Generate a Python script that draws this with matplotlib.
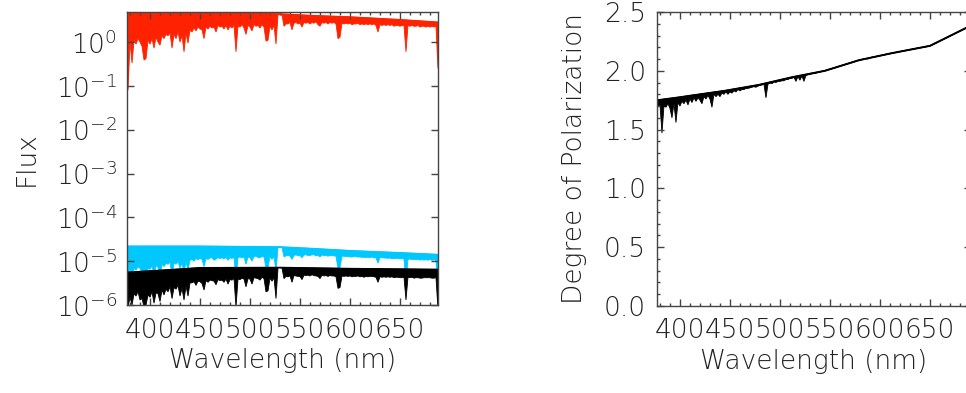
import numpy as np
import matplotlib
matplotlib.use("Agg")
import matplotlib.pyplot as plt
from matplotlib.ticker import MultipleLocator, FixedLocator, NullLocator, LogFormatterMathtext, FormatStrFormatter

# Wavelength grid of the sampled spectra (nm)
wavelength = np.arange(378, 690, 2)

# Total flux (red): continuum nodes and lower edge of the absorption lines
total_cont_wl = [378, 450, 530, 560, 600, 650, 688]
total_cont = [4.6, 4.6, 4.4, 4.05, 3.75, 3.25, 2.85]
total_low = [
    0.08, 1.0, 0.33, 1.1, 0.9, 1.2, 1.0, 0.8, 0.39, 0.42,
    1.1, 0.9, 1.2, 0.73, 1.3, 1.0, 0.85, 1.4, 1.2, 1.5,
    1.4, 1.6, 0.73, 1.5, 1.2, 1.7, 1.0, 1.4, 0.6, 1.6,
    0.95, 1.9, 1.7, 2.1, 1.8, 2.2, 2.0, 1.9, 1.2, 2.2,
    2.0, 2.3, 2.1, 2.2, 1.7, 2.4, 2.2, 2.3, 2.0, 2.4,
    1.9, 2.3, 2.1, 2.4, 0.6, 2.3, 2.2, 2.5, 2.1, 1.5,
    2.4, 2.2, 1.8, 2.5, 2.3, 2.4, 2.1, 2.5, 2.2, 1.05,
    1.1, 2.3, 1.9, 2.4, 0.9, 4.2, 4.2, 4.1, 2.3, 2.6,
    2.6, 2.8, 1.9, 2.7, 2.8, 2.6, 2.7, 2.2, 2.8, 2.7,
    2.8, 2.6, 2.8, 2.7, 2.9, 2.5, 2.3, 2.8, 2.7, 2.8,
    2.6, 2.8, 2.7, 2.8, 2.6, 1.2, 1.3, 2.7, 2.6, 2.7,
    2.6, 2.7, 2.5, 2.6, 2.6, 2.7, 2.5, 2.6, 2.5, 2.6,
    2.5, 2.6, 2.5, 2.6, 2.4, 1.7, 2.5, 2.4, 2.5, 2.4,
    2.5, 2.4, 2.5, 2.3, 2.4, 2.4, 2.3, 2.4, 2.4, 0.6,
    2.4, 2.3, 2.4, 2.3, 2.3, 2.4, 2.2, 2.3, 2.3, 2.2,
    2.3, 2.2, 2.3, 2.2, 2.3, 0.25,
]

# Polarized flux (cyan), units of 1e-6
pol_cont_wl = [378, 450, 530, 560, 600, 650, 688]
pol_cont = [22.0, 22.0, 21.2, 19.6, 17.4, 15.6, 14.2]
pol_low = [
    3.0, 6.5, 2.2, 7.0, 6.2, 7.5, 6.8, 5.5, 2.3, 2.5,
    7.0, 6.5, 7.8, 4.8, 8.0, 7.2, 4.6, 8.5, 7.5, 9.0,
    8.5, 9.5, 4.6, 9.2, 8.5, 9.8, 7.0, 9.0, 5.5, 9.6,
    6.2, 10.5, 11, 10, 11.5, 10.8, 11.5, 11.0, 7.5, 11.5,
    11, 11.8, 12, 10.5, 11.2, 12, 11.5, 12, 11.2, 12.2,
    10.5, 12, 11.5, 12.3, 3.9, 12, 12.5, 11.8, 12.5, 8.5,
    12.5, 12.0, 10, 12.8, 13, 12.2, 12, 12.8, 12.5, 7,
    7.2, 12.5, 11, 12.8, 5.8, 20.5, 20.5, 20.3, 12.5, 13.2,
    13.5, 13, 11, 13.5, 14, 13.2, 13.5, 12, 13.8, 14,
    13.5, 13.5, 14, 14, 13.2, 13.5, 12.5, 13.8, 13.5, 13.6,
    13, 13.4, 13.5, 13.2, 13, 6.9, 7.2, 13, 13, 12.8,
    12.8, 12.5, 12.5, 12.6, 12.8, 12.4, 12.5, 12.2, 12.3, 12.2,
    12.3, 12.0, 12.5, 11.8, 12, 9, 12, 12, 11.8, 11.8,
    11.6, 11.8, 11.5, 11.5, 11.6, 11.5, 11.2, 11.5, 11.2, 3.4,
    11.0, 11.2, 10.9, 11, 10.8, 11, 10.6, 10.8, 10.6, 10.8,
    10.5, 11, 10.5, 10.8, 10.4, 1.5,
]

# Residual flux (black), units of 1e-6
res_cont_wl = [378, 420, 450, 530, 600, 688]
res_cont = [5.6, 6.4, 7.1, 7.2, 6.8, 6.5]
res_low = [
    0.9, 1.5, 1.0, 1.8, 1.6, 2.0, 1.3, 1.4, 0.9, 1.0,
    1.7, 1.5, 2.0, 1.1, 1.9, 1.8, 1.2, 2.2, 1.7, 2.3,
    2.0, 2.6, 1.4, 2.5, 2.3, 2.8, 1.6, 2.4, 1.3, 2.7,
    1.6, 3.2, 3.2, 3.4, 2.8, 3.5, 3.4, 3.1, 2.2, 3.6,
    3.3, 3.7, 3.6, 3.5, 2.9, 3.8, 3.6, 3.7, 3.3, 3.9,
    3.0, 3.8, 3.7, 4.0, 0.9, 3.9, 3.8, 4.1, 3.9, 2.6,
    4.0, 3.9, 3.0, 4.2, 4.1, 4.0, 3.7, 4.3, 4.0, 2.0,
    2.1, 4.1, 3.5, 4.2, 1.4, 7.0, 7.0, 6.9, 4.0, 4.5,
    4.4, 4.6, 3.3, 4.7, 4.6, 4.5, 4.5, 3.8, 4.8, 4.7,
    4.8, 4.6, 4.9, 4.7, 4.6, 4.5, 4.0, 4.8, 4.6, 4.7,
    4.5, 4.7, 4.6, 4.6, 4.4, 2.4, 2.5, 4.6, 4.5, 4.6,
    4.5, 4.6, 4.4, 4.5, 4.5, 4.6, 4.4, 4.5, 4.3, 4.5,
    4.4, 4.5, 4.5, 4.4, 4.3, 3.3, 4.4, 4.3, 4.4, 4.3,
    4.4, 4.3, 4.4, 4.2, 4.3, 4.3, 4.2, 4.2, 4.3, 1.3,
    4.3, 4.2, 4.3, 4.1, 4.2, 4.2, 4.1, 4.1, 4.2, 4.2,
    4.2, 4.2, 4.1, 4.1, 4.2, 0.8,
]

# Degree of polarization: smooth upper curve and lower edge of the dips
dop_top_wl = [378, 400, 412, 445, 479, 512, 545, 579, 612, 650, 688]
dop_top = [1.75, 1.775, 1.79, 1.83, 1.88, 1.945, 2.0, 2.09, 2.15, 2.212, 2.372]
dop_low = [
    1.70, 1.71, 1.47, 1.70, 1.69, 1.72, 1.68, 1.60, 1.72, 1.56,
    1.73, 1.70, 1.74, 1.72, 1.75, 1.71, 1.76, 1.73, 1.77, 1.74,
    1.77, 1.75, 1.72, 1.78, 1.76, 1.79, 1.76, 1.69, 1.80, 1.78,
    1.80, 1.78, 1.81, 1.80, 1.82, 1.80, 1.82, 1.81, 1.83, 1.82,
    1.84, 1.83, 1.84, 1.84, 1.85, 1.85, 1.855, 1.86, 1.865, 1.86,
    1.87, 1.875, 1.88, 1.885, 1.77, 1.885, 1.895, 1.89, 1.905, 1.90,
    1.91, 1.91, 1.915, 1.915, 1.925, 1.925, 1.935, 1.935, 1.945, 1.91,
    1.95, 1.92, 1.955, 1.91, 1.96, 1.965, 1.97, 1.975, 1.975, 1.98,
    1.985, 1.99, 1.995, 2.0, 2.005, 2.01, 2.015, 2.02, 2.025, 2.03,
    2.035, 2.04, 2.045, 2.05, 2.055, 2.06, 2.065, 2.07, 2.078, 2.083,
    2.088, 2.092, 2.096, 2.10, 2.104, 2.10, 2.11, 2.115, 2.118, 2.12,
    2.124, 2.128, 2.131, 2.135, 2.138, 2.142, 2.145, 2.15, 2.153, 2.156,
    2.16, 2.163, 2.166, 2.17, 2.173, 2.176, 2.18, 2.183, 2.186, 2.19,
    2.193, 2.196, 2.199, 2.202, 2.205, 2.208, 2.212, 2.22, 2.228, 2.236,
    2.245, 2.253, 2.262, 2.27, 2.279, 2.287, 2.296, 2.304, 2.313, 2.321,
    2.33, 2.338, 2.347, 2.355, 2.364, 2.372,
]

x_major = [400, 450, 500, 550, 600, 650]

plt.rcParams["font.family"] = "DejaVu Sans"
plt.rcParams["font.weight"] = "light"
plt.rcParams["axes.labelweight"] = "light"
plt.rcParams["mathtext.fontset"] = "dejavusans"
text_color = "#222222"
axis_color = "#444444"


def draw_spectrum(ax, cont_wl, cont, low, color, scale=1.0):
    """Fill between the continuum (upper edge) and the line bottoms (lower edge)."""
    xs = np.concatenate([wavelength, np.array(cont_wl)[::-1]])
    ys = np.concatenate([np.array(low), np.array(cont)[::-1]]) * scale
    ax.fill(xs, ys, facecolor=color, edgecolor=color, lw=0.6)
    ax.plot(cont_wl, np.array(cont) * scale, color=color, lw=1.0)


def style_axes(ax, xmax):
    """IDL-like frame: inward ticks on all four sides."""
    for side in ax.spines.values():
        side.set_color(axis_color)
        side.set_linewidth(1.0)
    ax.tick_params(which="both", direction="in", top=True, right=True,
                   color=axis_color, labelcolor=text_color, labelsize=19)
    ax.tick_params(which="major", length=5, width=1.0)
    ax.tick_params(which="minor", length=2.5, width=1.0)
    ax.tick_params(axis="x", pad=9)
    ax.xaxis.set_major_locator(FixedLocator(x_major))
    ax.xaxis.set_minor_locator(MultipleLocator(10))
    ax.set_xlim(377, xmax)
    ax.set_xlabel("Wavelength (nm)", fontsize=19, fontweight="light",
                  color=text_color, labelpad=4)


fig = plt.figure(figsize=(9.66, 3.93), dpi=100)

# Left panel: fluxes on a log scale
ax1 = fig.add_axes([0.1315, 0.2239, 0.3219, 0.7455])
draw_spectrum(ax1, total_cont_wl, total_cont, total_low, "#ff2200")
draw_spectrum(ax1, pol_cont_wl, pol_cont, pol_low, "#00c8ff", 1e-6)
draw_spectrum(ax1, res_cont_wl, res_cont, res_low, "black", 1e-6)
ax1.set_yscale("log")
ax1.set_ylim(1e-6, 4.86)
ax1.yaxis.set_major_locator(FixedLocator([1e-6, 1e-5, 1e-4, 1e-3, 1e-2, 1e-1, 1e0]))
ax1.yaxis.set_minor_locator(NullLocator())
ax1.yaxis.set_major_formatter(LogFormatterMathtext())
style_axes(ax1, 688)
ax1.tick_params(axis="y", pad=7)
ax1.set_ylabel("Flux", fontsize=19, fontweight="light", color=text_color, labelpad=12)

# Right panel: degree of polarization (frame runs past the right edge of the image)
ax2 = fig.add_axes([0.6801, 0.2214, 0.3250, 0.7481])
draw_spectrum(ax2, dop_top_wl, dop_top, dop_low, "black")
ax2.plot(dop_top_wl, dop_top, color="black", lw=1.4)
ax2.set_ylim(0, 2.5)
ax2.yaxis.set_major_locator(MultipleLocator(0.5))
ax2.yaxis.set_minor_locator(MultipleLocator(0.1))
ax2.yaxis.set_major_formatter(FormatStrFormatter("%.1f"))
style_axes(ax2, 691)
ax2.tick_params(axis="y", pad=8)
ax2.set_ylabel("Degree of Polarization", fontsize=19, fontweight="light",
               color=text_color, labelpad=12)

fig.savefig("out.png", dpi=100)
